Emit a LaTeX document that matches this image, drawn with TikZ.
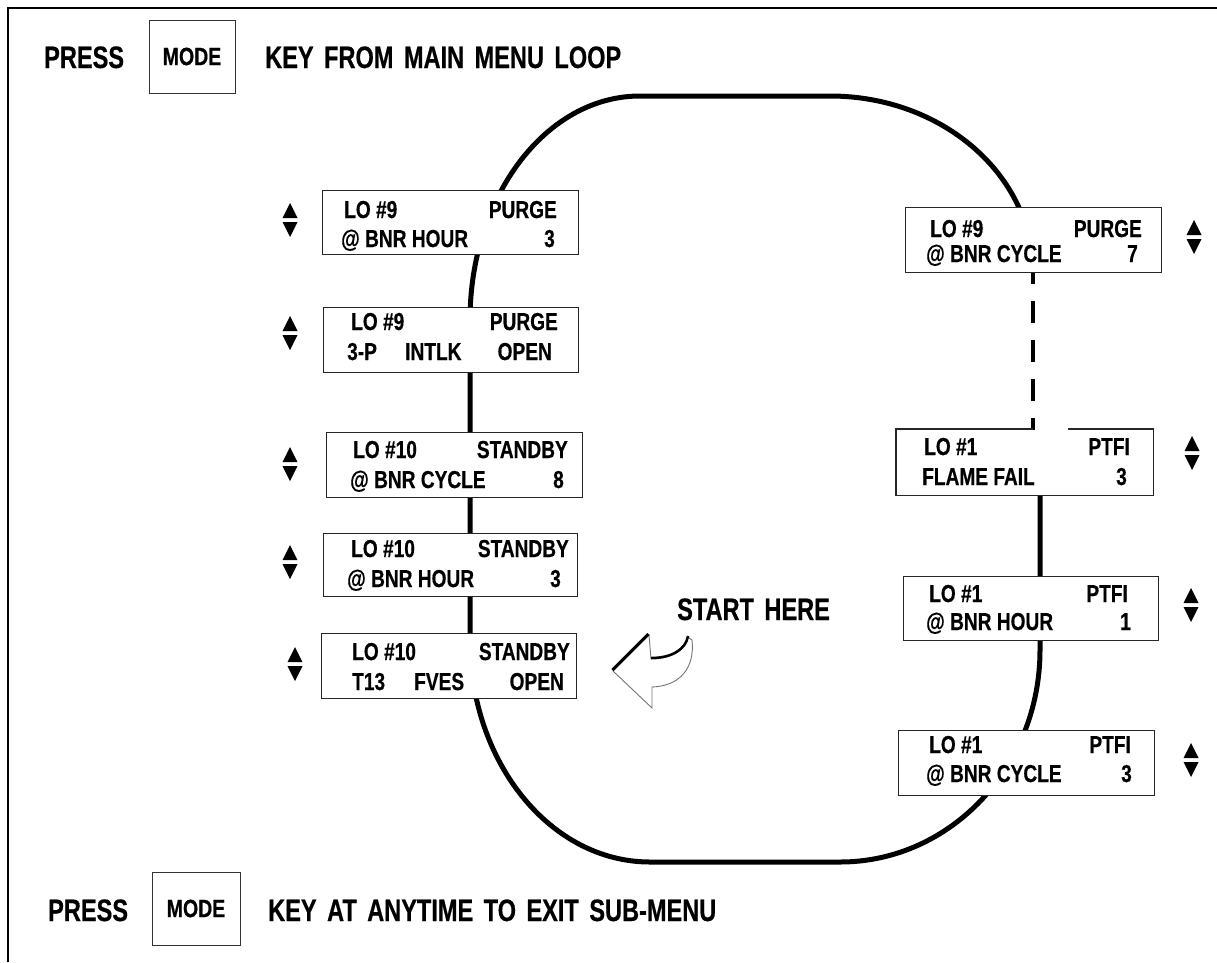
\documentclass[tikz,border=0pt]{standalone}
\usepackage{fontspec}
\setmainfont{Liberation Sans}[FakeStretch=0.78, BoldFeatures={FakeBold=0.5}]
\newfontfamily\hdrfont{Liberation Sans}[FakeStretch=0.76, WordSpace=1.6, BoldFeatures={FakeBold=0.5}]
\begin{document}
\begin{tikzpicture}[x=1pt,y=-1pt,
  hdr/.style={font=\hdrfont\bfseries\fontsize{31}{32}\selectfont, inner sep=0pt, anchor=base west},
  keybox/.style={draw=black!80, line width=1pt, inner sep=0pt, font=\bfseries\fontsize{25}{26}\selectfont},
  dbox/.style={draw=black!85, line width=1.3pt, fill=white, inner sep=0pt, anchor=north west},
  tl/.style={font=\bfseries\fontsize{24.5}{25}\selectfont, inner sep=0pt, anchor=base west},
  tr/.style={font=\bfseries\fontsize{24.5}{25}\selectfont, inner sep=0pt, anchor=base east},
  loopline/.style={line width=5pt, black},
  updown/.pic={\fill (-7.5,-2) -- (7.5,-2) -- (0,-17) -- cycle;
               \fill (-7.5,2) -- (7.5,2) -- (0,17) -- cycle;}
]
\useasboundingbox (0,0) rectangle (1217,962);
% frame
\draw[line width=2.5pt] (8,962) -- (8,8) -- (1217,8);

% header / footer
\node[hdr] (p1) at (44,68) {PRESS};
\node[keybox, minimum width=86pt, minimum height=73pt] (m1) at (192,56.5) {MODE};
\node[hdr] (k1) at (265,68) {KEY FROM MAIN MENU LOOP};
\node[hdr] (p2) at (48,921) {PRESS};
\node[keybox, minimum width=88pt, minimum height=73pt] (m2) at (196,908.5) {MODE};
\node[hdr] (k2) at (268,921) {KEY AT ANYTIME TO EXIT SUB-MENU};

% loop
\coordinate (lA) at (470,640);
\coordinate (rA) at (1033,272);
\coordinate (rB) at (1033,430);
\coordinate (rC) at (1040,470);
\draw[loopline] (lA) -- (470,320) arc[start angle=180, end angle=270, x radius=170, y radius=224]
  -- (830,96) arc[start angle=-90, end angle=0, x radius=203, y radius=176];
\draw[line width=4.5pt, dash pattern=on 22pt off 17pt, dash phase=10pt] (rA) -- (rB);
\draw[loopline] (rC) -- (1040,650) arc[start angle=0, end angle=90, x radius=200, y radius=212]
  -- (650,862) arc[start angle=90, end angle=180, x radius=180, y radius=222] -- (lA);

% left boxes
\node[dbox, minimum width=256pt, minimum height=64pt] (L1) at (322,190) {};
\node[tl] (L1a) at (344,218) {LO \#9};
\node[tr] (L1b) at (557,218) {PURGE};
\node[tl] (L1c) at (341,247) {@ BNR HOUR};
\node[tr] (L1d) at (555,247) {3};
\pic at (290,220) {updown};

\node[dbox, minimum width=255pt, minimum height=65pt] (L2) at (323,307) {};
\node[tl] (L2a) at (351,330) {LO \#9};
\node[tr] (L2b) at (558,330) {PURGE};
\node[tl] (L2c) at (347,360) {3-P};
\node[tl] (L2d) at (405,360) {INTLK};
\node[tr] (L2e) at (552,360) {OPEN};
\pic at (290,333) {updown};

\node[dbox, minimum width=256pt, minimum height=65pt] (L3) at (326,432) {};
\node[tl] (L3a) at (353,458) {LO \#10};
\node[tr] (L3b) at (568,458) {STANDBY};
\node[tl] (L3c) at (350,488) {@ BNR CYCLE};
\node[tr] (L3d) at (564,488) {8};
\pic at (290,464) {updown};

\node[dbox, minimum width=254pt, minimum height=63pt] (L4) at (323,533) {};
\node[tl] (L4a) at (351,557) {LO \#10};
\node[tr] (L4b) at (569,557) {STANDBY};
\node[tl] (L4c) at (347,587) {@ BNR HOUR};
\node[tr] (L4d) at (561,587) {3};
\pic at (290,562) {updown};

\node[dbox, minimum width=255pt, minimum height=65pt] (L5) at (321,633) {};
\node[tl] (L5a) at (352,660) {LO \#10};
\node[tr] (L5b) at (570,660) {STANDBY};
\node[tl] (L5c) at (352,690) {T13};
\node[tl] (L5d) at (414,690) {FVES};
\node[tr] (L5e) at (564,690) {OPEN};
\pic at (295,664) {updown};

% right boxes
\node[dbox, minimum width=256pt, minimum height=65pt] (R1) at (905,207) {};
\node[tl] (R1a) at (930,237) {LO \#9};
\node[tr] (R1b) at (1142,237) {PURGE};
\node[tl] (R1c) at (926,262) {@ BNR CYCLE};
\node[tr] (R1d) at (1138,262) {7};
\pic at (1194,237) {updown};

\node[dbox, draw=none, minimum width=256pt, minimum height=65pt] (R2) at (896,429) {};
\coordinate (gapL) at (1033,429);
\coordinate (gapR) at (1068,429);
\draw[draw=black!85, line width=1.3pt] (gapL) -- (R2.north west) -- (R2.south west)
  -- (R2.south east) -- (R2.north east) -- (gapR);
\node[tl] (R2a) at (924,455) {LO \#1};
\node[tr] (R2b) at (1130,455) {PTFI};
\node[tl] (R2c) at (922,485) {FLAME FAIL};
\node[tr] (R2d) at (1127,485) {3};
\pic at (1192,453) {updown};

\node[dbox, minimum width=255pt, minimum height=64pt] (R3) at (903,576) {};
\node[tl] (R3a) at (929,602) {LO \#1};
\node[tr] (R3b) at (1128,602) {PTFI};
\node[tl] (R3c) at (926,630) {@ BNR HOUR};
\node[tr] (R3d) at (1131,630) {1};
\pic at (1191,605) {updown};

\node[dbox, minimum width=256pt, minimum height=65pt] (R4) at (898,730) {};
\node[tl] (R4a) at (929,753) {LO \#1};
\node[tr] (R4b) at (1131,753) {PTFI};
\node[tl] (R4c) at (926,782) {@ BNR CYCLE};
\node[tr] (R4d) at (1132,782) {3};
\pic at (1191,760) {updown};

% start here
\node[hdr] (sh) at (677,620) {START HERE};
\draw[black!55, line width=0.9pt, line join=miter]
  (613,671) -- (649,635) -- (651,659)
  .. controls (672,659) and (686,650) .. (688,637)
  -- (692,640)
  .. controls (695,668) and (680,686) .. (652,687)
  -- (652,708) -- cycle;
\draw[black, line width=3pt] (612.5,670) -- (648.5,634);
\draw[black, line width=2.5pt] (651,658) .. controls (672,658) and (686,649) .. (688,636);
\end{tikzpicture}
\end{document}
